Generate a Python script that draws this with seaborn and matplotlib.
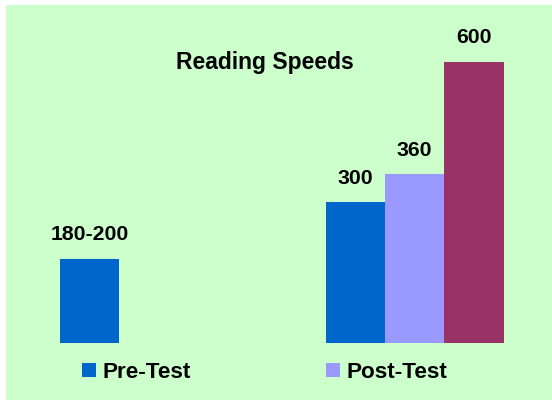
import matplotlib
matplotlib.use("Agg")
import matplotlib.pyplot as plt
from matplotlib.patches import Rectangle, Patch
import seaborn as sns
import pandas as pd

# ---- data ----
groups = ["Pre", "Post"]
series = ["Pre-Test", "Post-Test", "Goal"]
pre_test_vals = [180, 300]
post_test_vals = [None, 360]
goal_vals = [None, 600]
pre_test_labels = ["180-200", "300"]
post_test_labels = ["", "360"]
goal_labels = ["", "600"]
legend_labels = ["Pre-Test", "Post-Test"]
title = "Reading Speeds"
colors = ["#0066CC", "#9999FF", "#993366"]

rows = []
for s, vals, labs in zip(series,
                         [pre_test_vals, post_test_vals, goal_vals],
                         [pre_test_labels, post_test_labels, goal_labels]):
    for g, v, lab in zip(groups, vals, labs):
        if v is not None:
            rows.append({"group": g, "series": s, "speed": v, "label": lab})
df = pd.DataFrame(rows)

sns.set_style("white")
plt.rcParams["font.family"] = ["Liberation Sans", "DejaVu Sans"]
plt.rcParams["text.color"] = "black"

fig = plt.figure(figsize=(5.52, 4.0), dpi=100)
fig.patch.set_facecolor("white")
fig.add_artist(Rectangle((6 / 552, 0), 1 - 6 / 552, 395 / 400,
                         transform=fig.transFigure, facecolor="#CCFFCC",
                         edgecolor="none", zorder=-10))

ax = fig.add_axes([6 / 552, 57 / 400, 546 / 552, 338 / 400])
sns.barplot(data=df, x="group", y="speed", hue="series", order=groups,
            hue_order=series, palette=colors, width=0.67, dodge=True,
            saturation=1, legend=False, linewidth=0, ax=ax)
ax.set_xlim(-0.538, 1.517)
ax.set_ylim(0, 721.4)
ax.axis("off")
ax.patch.set_visible(False)

for cont, s in zip(ax.containers, series):
    labs = df.loc[df["series"] == s, "label"].tolist()
    ax.bar_label(cont, labels=labs, padding=10.5, fontsize=15.3,
                 fontweight="bold", color="black")

fig.text(265 / 552, 1 - 69 / 400, title, ha="center", va="baseline",
         fontsize=16.5, fontweight="bold", color="black")

for lab, col, xpx in zip(legend_labels, colors[:2], [82, 326]):
    fig.legend(handles=[Patch(facecolor=col, edgecolor="none")], labels=[lab],
               loc="center left", bbox_to_anchor=(xpx / 552, 1 - 372.5 / 400),
               frameon=False, prop={"size": 16.2, "weight": "bold"},
               labelcolor="black",
               handlelength=0.62, handleheight=0.62, handletextpad=0.28,
               borderpad=0, borderaxespad=0)

fig.savefig("out.png", dpi=100)
